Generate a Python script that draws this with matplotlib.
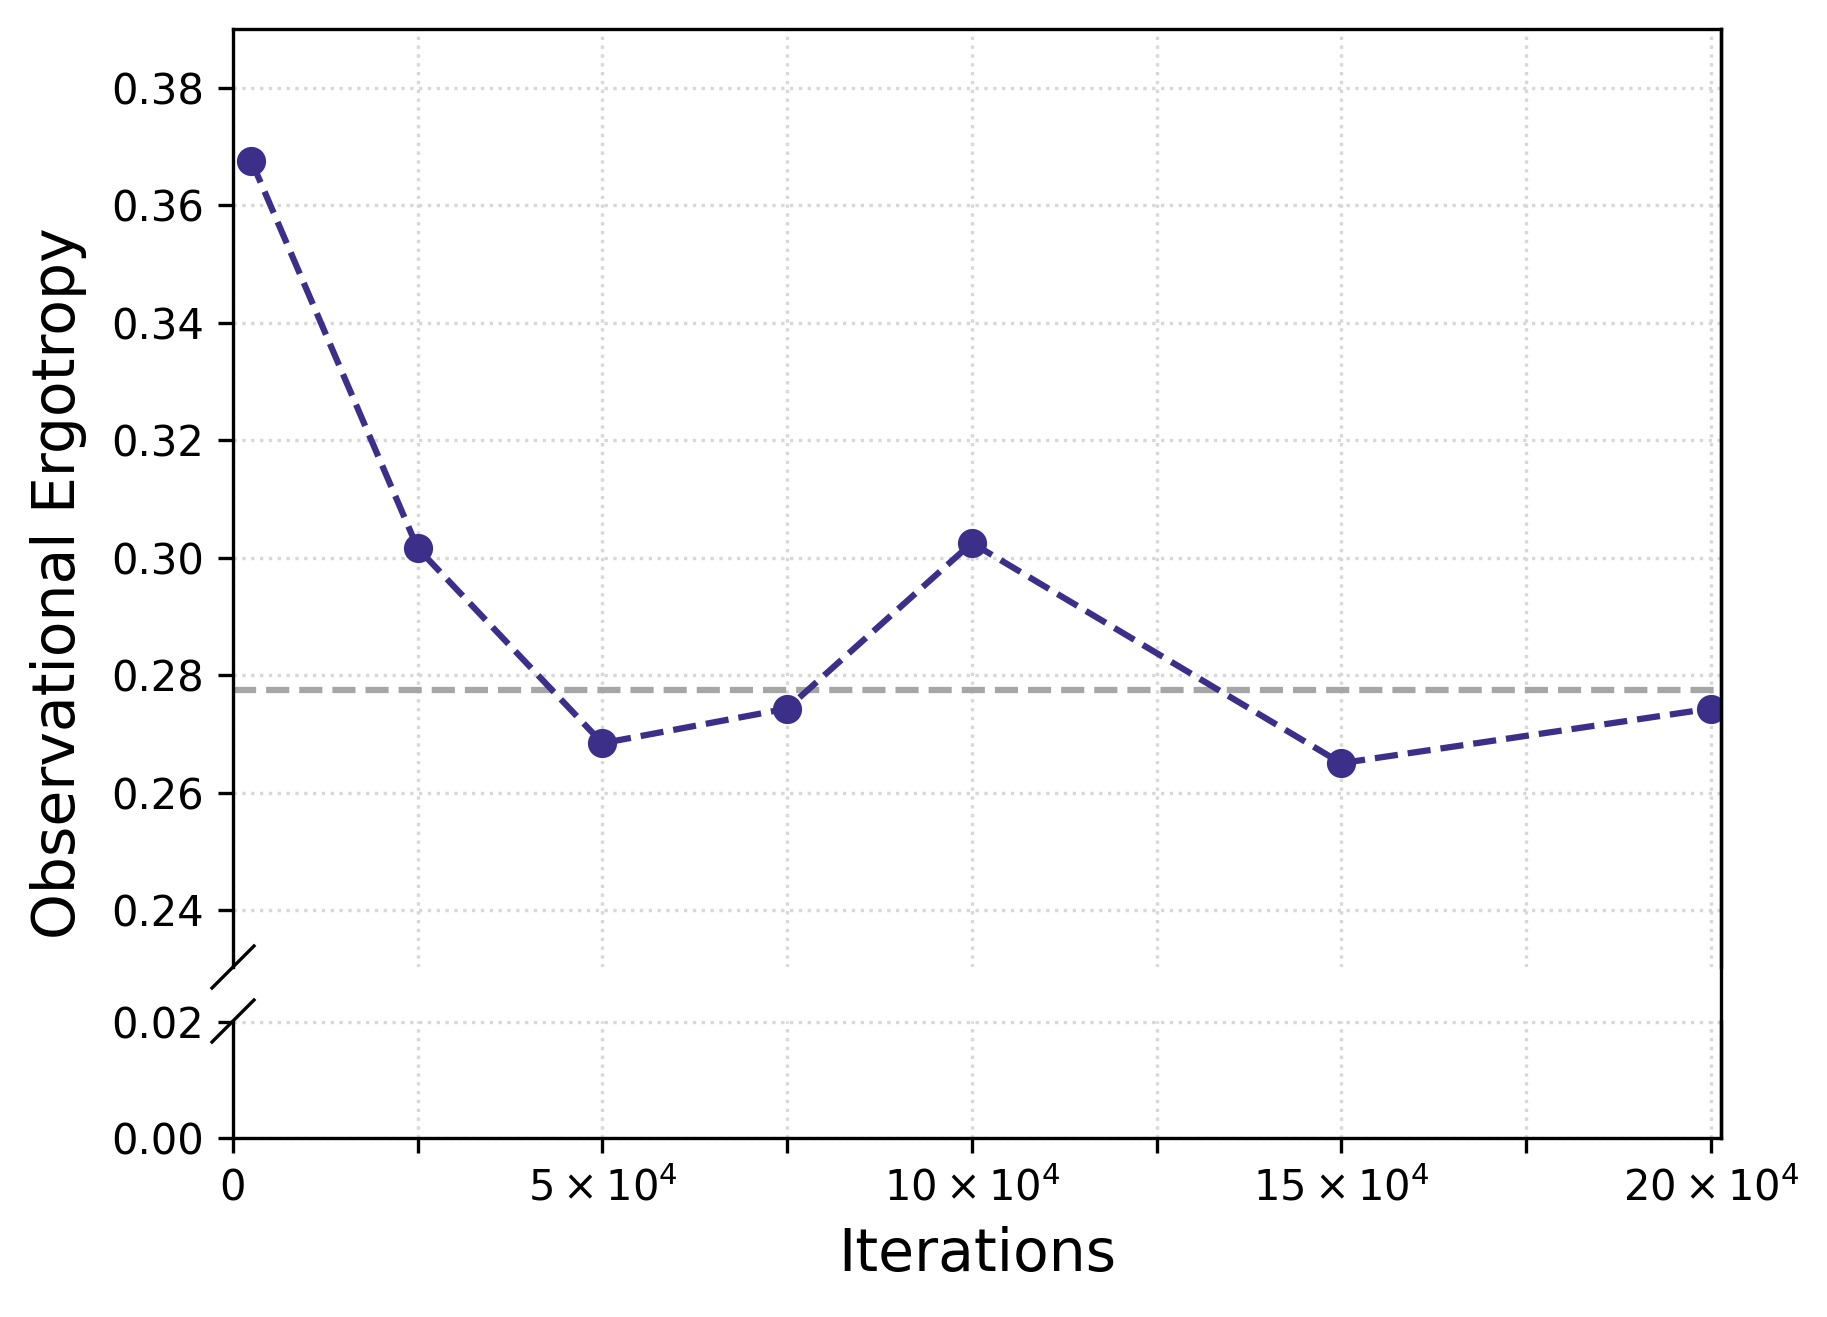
import matplotlib
matplotlib.use("Agg")
import matplotlib.pyplot as plt
from matplotlib.ticker import FuncFormatter, FixedLocator
from matplotlib.lines import Line2D

# Data
iterations = [2500, 25000, 50000, 75000, 100000, 150000, 200000]
ergotropy = [0.3675, 0.3016, 0.2684, 0.2743, 0.3025, 0.2650, 0.2743]
reference_level = 0.2775
upper_yticks = [0.24, 0.26, 0.28, 0.30, 0.32, 0.34, 0.36, 0.38]
lower_yticks = [0.00, 0.02]
x_ticks = [0, 25000, 50000, 75000, 100000, 125000, 150000, 175000, 200000]

line_color = "#3B2F8A"
ref_color = "#A6A6A6"
grid_color = "#D8D8D8"

W, H = 1827, 1317
dpi = 300
fig = plt.figure(figsize=(W / dpi, H / dpi), dpi=dpi)

left, right = 233 / W, 1721 / W
top_up, bot_up = 1 - 29 / H, 1 - 967 / H
top_lo, bot_lo = 1 - 1021 / H, 1 - 1138 / H

ax_up = fig.add_axes([left, bot_up, right - left, top_up - bot_up])
ax_lo = fig.add_axes([left, bot_lo, right - left, top_lo - bot_lo], sharex=ax_up)

for ax in (ax_up, ax_lo):
    ax.plot(iterations, ergotropy, linestyle="--", marker="o", color=line_color,
            linewidth=1.5, markersize=6, zorder=3)
    ax.axhline(reference_level, color=ref_color, linestyle="--", linewidth=1.5, zorder=2)
    ax.grid(True, linestyle=":", color=grid_color, linewidth=0.8)
    ax.set_axisbelow(True)
    ax.tick_params(labelsize=10)

ax_up.set_xlim(0, 201400)
ax_up.set_ylim(0.2303, 0.39)
ax_lo.set_ylim(0.0, 0.0202)

ax_up.yaxis.set_major_locator(FixedLocator(upper_yticks))
ax_lo.yaxis.set_major_locator(FixedLocator(lower_yticks))
ax_up.yaxis.set_major_formatter(FuncFormatter(lambda v, p: f"{v:.2f}"))
ax_lo.yaxis.set_major_formatter(FuncFormatter(lambda v, p: f"{v:.2f}"))

ax_lo.xaxis.set_major_locator(FixedLocator(x_ticks))


def xfmt(v, p):
    if abs(v) < 1e-9:
        return "0"
    n = int(round(v / 1e4))
    if int(round(v)) % 50000 != 0:
        return ""
    return r"$%d\times10^{4}$" % n


ax_lo.xaxis.set_major_formatter(FuncFormatter(xfmt))

ax_up.spines["bottom"].set_visible(False)
ax_lo.spines["top"].set_visible(False)
ax_up.tick_params(axis="x", which="both", bottom=False, labelbottom=False)

# right spine continuous across the gap
fig.add_artist(Line2D([right, right], [bot_lo, top_up], transform=fig.transFigure,
                      color="black", linewidth=0.8, zorder=5))

# break marks
dx, dy = 21 / W, 21 / H
for yc in (bot_up, top_lo):
    fig.add_artist(Line2D([left - dx, left + dx], [yc - dy, yc + dy],
                          transform=fig.transFigure, color="black", linewidth=0.8))

ax_lo.set_xlabel("Iterations", fontsize=14)
fig.text(30 / W, 1 - 583 / H, "Observational Ergotropy", rotation=90,
         fontsize=14, ha="left", va="center")

fig.savefig("out.png", dpi=dpi)
